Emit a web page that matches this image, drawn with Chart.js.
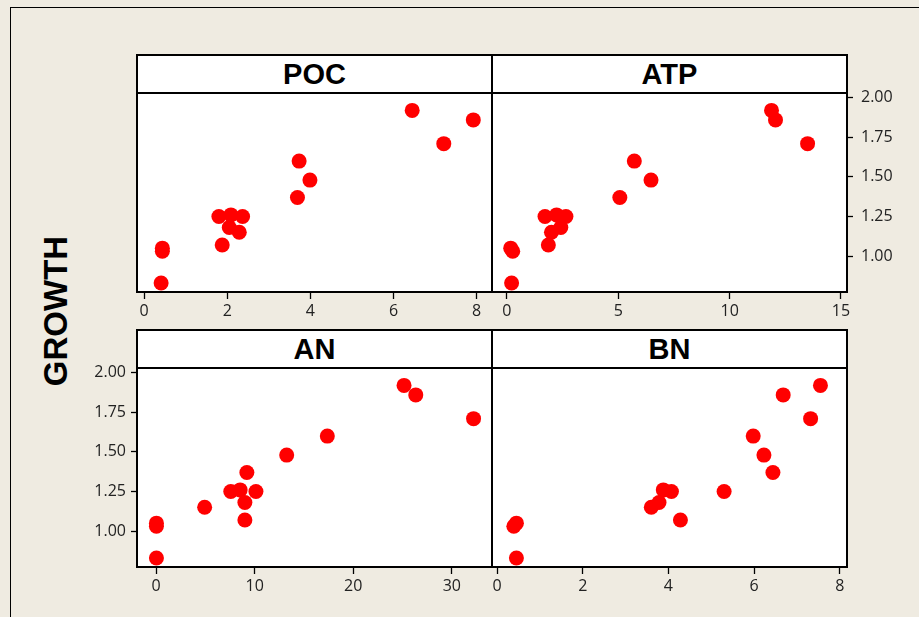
<!DOCTYPE html>
<html>
<head>
<meta charset="utf-8">
<script src="https://cdn.jsdelivr.net/npm/chart.js@4.4.1/dist/chart.umd.min.js"></script>
<style>
    html, body { margin: 0; padding: 0; }
    body { width: 919px; height: 617px; background: #efebe1; position: relative; overflow: hidden; }
    .frame { position: absolute; left: 10px; top: 7px; width: 940px; height: 640px;
             border-left: 1.5px solid #000; border-top: 1.5px solid #000; }
    .head { position: absolute; box-sizing: border-box; background: #fff; border: 2px solid #000;
            font: bold 29px 'Liberation Sans', Arial, sans-serif; color: #000;
            display: flex; align-items: center; justify-content: center; }
    .ylabel { position: absolute; left: 56px; top: 311px; transform: translate(-50%, -50%) rotate(-90deg);
              font: bold 33px 'Liberation Sans', Arial, sans-serif; color: #000; white-space: nowrap; }
    canvas { position: absolute; }
</style>
</head>
<body>
<div class="frame"></div>
<div class="ylabel">GROWTH</div>

<script>
// ======================
// DONNEES
// ======================
const growth = [1.92, 1.86, 1.71, 1.60, 1.48, 1.37, 1.25, 1.26, 1.25, 1.18, 1.15, 1.07, 1.05, 1.03, 0.83];
const poc = [6.45, 7.92, 7.21, 3.73, 3.99, 3.69, 1.80, 2.09, 2.37, 2.05, 2.29, 1.88, 0.44, 0.44, 0.41];
const atp = [11.88, 12.06, 13.50, 5.72, 6.47, 5.07, 1.71, 2.23, 2.65, 2.42, 2.00, 1.86, 0.17, 0.26, 0.21];
const an = [25.15, 26.34, 32.2, 17.37, 13.25, 9.21, 7.58, 8.53, 10.13, 9.01, 4.93, 9.01, 0.04, 0.04, 0.04];
const bn = [7.55, 6.68, 7.32, 5.98, 6.23, 6.44, 5.30, 3.88, 4.07, 3.78, 3.60, 4.28, 0.45, 0.39, 0.45];

const growthTicks = [1.00, 1.25, 1.50, 1.75, 2.00];
const pocTicks = [0, 2, 4, 6, 8];
const atpTicks = [0, 5, 10, 15];
const anTicks = [0, 10, 20, 30];
const bnTicks = [0, 2, 4, 6, 8];

// ======================
// MISE EN PAGE
// ======================
const PLOT_W = 355;
const PLOT_H = 199;
const HEAD_H = 40;
const SIDE = 70;   // place pour les labels de l'axe Y
const TOP = 12;
const BOTTOM = 40; // place pour l'axe X

const panels = [
    { title: 'POC', values: poc, ticks: pocTicks, min: -0.17, max: 8.37, left: 137, top: 93, yPos: null, col: 0 },
    { title: 'ATP', values: atp, ticks: atpTicks, min: -0.67, max: 15.27, left: 492, top: 93, yPos: 'right', col: 1 },
    { title: 'AN', values: an, ticks: anTicks, min: -1.93, max: 34.07, left: 137, top: 368, yPos: 'left', col: 0 },
    { title: 'BN', values: bn, ticks: bnTicks, min: -0.12, max: 8.17, left: 492, top: 368, yPos: null, col: 1 }
];

const tickFont = { family: "'Open Sans', 'Noto Sans', sans-serif", size: 16 };

// cadre noir + fond blanc de la zone de tracé
const panelFrame = {
    id: 'panelFrame',
    beforeDraw(chart) {
        const a = chart.chartArea;
        const ctx = chart.ctx;
        ctx.save();
        ctx.fillStyle = '#ffffff';
        ctx.fillRect(a.left, a.top, a.right - a.left, a.bottom - a.top);
        ctx.restore();
    },
    afterDraw(chart) {
        const a = chart.chartArea;
        const ctx = chart.ctx;
        ctx.save();
        ctx.strokeStyle = '#000000';
        ctx.lineWidth = 2;
        ctx.strokeRect(a.left, a.top, a.right - a.left, a.bottom - a.top);
        ctx.restore();
    }
};

function getPanelOptions(p) {
    const hasY = p.yPos !== null;
    return {
        responsive: false,
        animation: false,
        layout: {
            padding: {
                top: TOP,
                bottom: 0,
                left: p.yPos === 'left' ? 0 : SIDE,
                right: p.yPos === 'right' ? 0 : SIDE
            }
        },
        plugins: {
            legend: { display: false },
            tooltip: { enabled: false }
        },
        scales: {
            x: {
                type: 'linear',
                min: p.min,
                max: p.max,
                afterBuildTicks: s => { s.ticks = p.ticks.map(v => ({ value: v })); },
                afterFit: s => {
                    s.height = BOTTOM;
                    s.paddingLeft = 0;
                    s.paddingRight = 0;
                },
                border: { display: false },
                grid: {
                    drawOnChartArea: false,
                    drawTicks: true,
                    tickLength: 7,
                    tickColor: '#000',
                    tickWidth: 1.3
                },
                ticks: {
                    font: tickFont,
                    color: '#222',
                    padding: 3,
                    maxRotation: 0,
                    callback: v => String(v)
                }
            },
            y: {
                type: 'linear',
                display: hasY,
                position: hasY ? p.yPos : 'left',
                min: 0.773,
                max: 2.03,
                afterBuildTicks: s => { s.ticks = growthTicks.map(v => ({ value: v })); },
                afterFit: s => {
                    s.width = hasY ? SIDE : 0;
                    s.paddingTop = 0;
                    s.paddingBottom = 0;
                },
                border: { display: false },
                grid: {
                    drawOnChartArea: false,
                    drawTicks: true,
                    tickLength: 6,
                    tickColor: '#000',
                    tickWidth: 1.3
                },
                ticks: {
                    font: tickFont,
                    color: '#222',
                    padding: p.yPos === 'right' ? 8 : 5,
                    callback: v => v.toFixed(2)
                }
            }
        }
    };
}

// ======================
// CREATION DES PANNEAUX
// ======================
panels.forEach(p => {
    // bandeau du titre : la colonne de droite n'a pas de bord gauche (partagé)
    const head = document.createElement('div');
    head.className = 'head';
    head.textContent = p.title;
    if (p.col === 0) {
        head.style.left = (p.left - 1) + 'px';
        head.style.width = (PLOT_W + 2) + 'px';
    } else {
        head.style.left = (p.left + 1) + 'px';
        head.style.width = (PLOT_W) + 'px';
        head.style.borderLeft = 'none';
    }
    head.style.top = (p.top + 1 - HEAD_H) + 'px';
    head.style.height = HEAD_H + 'px';
    document.body.appendChild(head);

    const canvas = document.createElement('canvas');
    canvas.width = PLOT_W + 2 * SIDE;
    canvas.height = PLOT_H + TOP + BOTTOM;
    canvas.style.left = (p.left - SIDE) + 'px';
    canvas.style.top = (p.top - TOP) + 'px';
    document.body.appendChild(canvas);

    new Chart(canvas.getContext('2d'), {
        type: 'scatter',
        data: {
            datasets: [{
                data: p.values.map((v, i) => ({ x: v, y: growth[i] })),
                backgroundColor: '#ff0000',
                borderWidth: 0,
                pointRadius: 7.5,
                pointHoverRadius: 7.5
            }]
        },
        options: getPanelOptions(p),
        plugins: [panelFrame]
    });
});
</script>
</body>
</html>
